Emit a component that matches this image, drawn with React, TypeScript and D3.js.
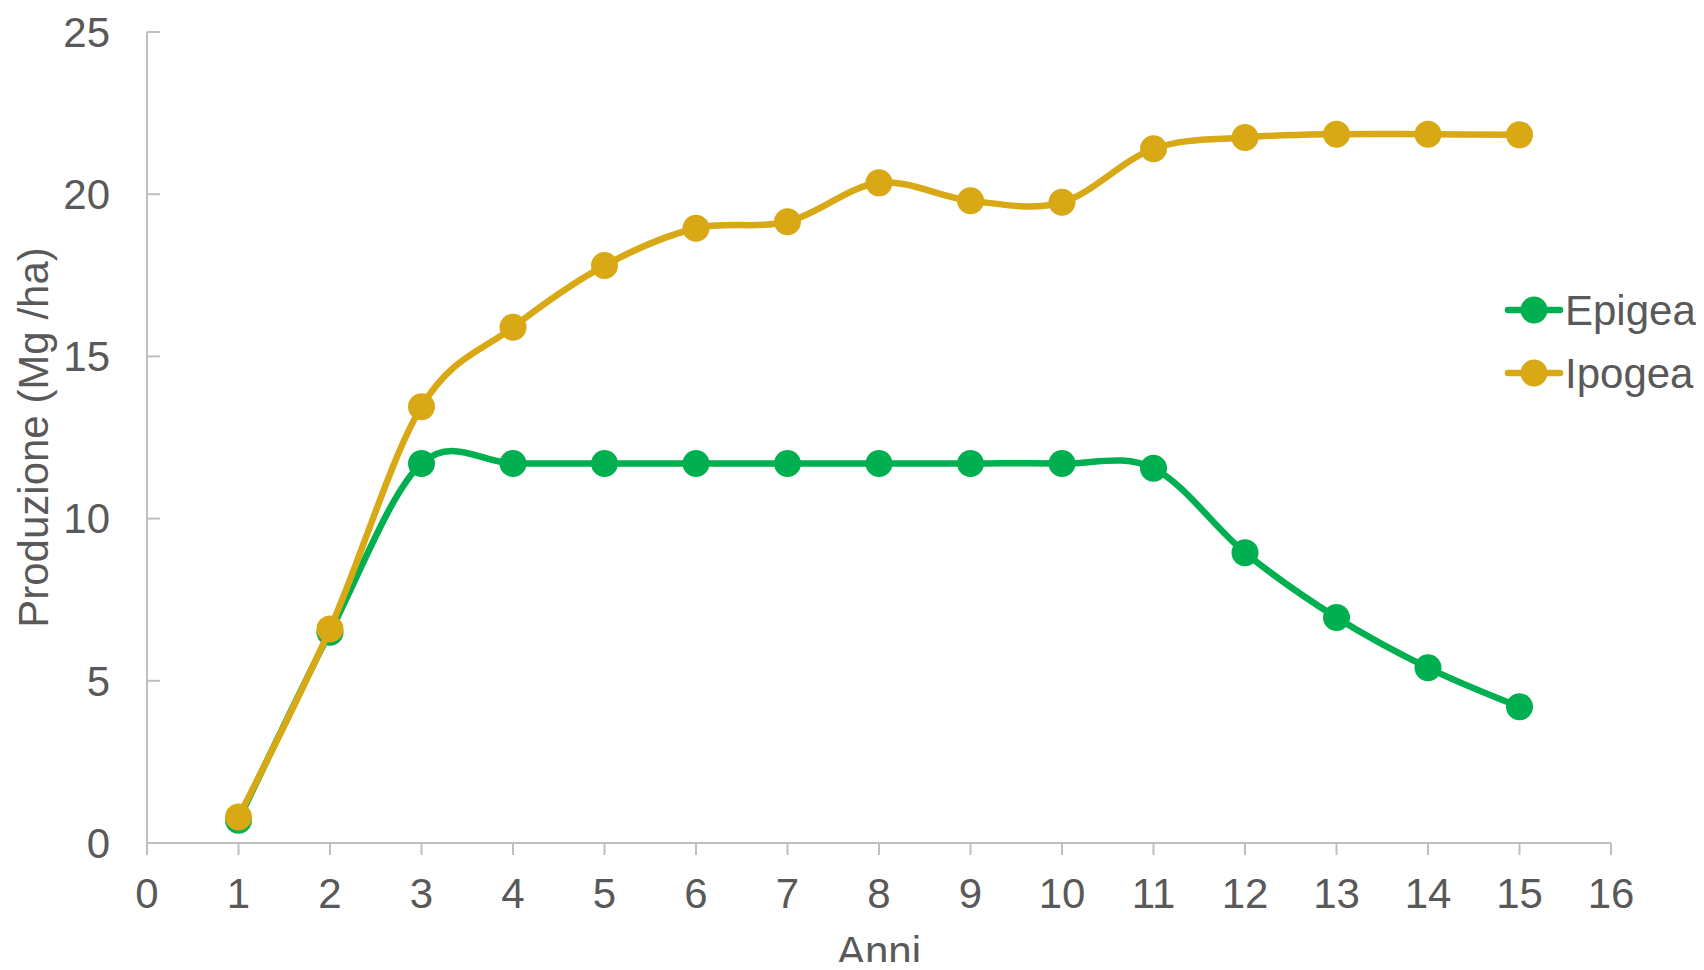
//@ts-nocheck
import * as d3 from "d3";
import { useEffect, useRef } from "react";

const anni = [1, 2, 3, 4, 5, 6, 7, 8, 9, 10, 11, 12, 13, 14, 15];
const epigea = [0.7, 6.5, 11.7, 11.7, 11.7, 11.7, 11.7, 11.7, 11.7, 11.7, 11.55, 8.95, 6.95, 5.4, 4.2];
const ipogea = [0.8, 6.6, 13.45, 15.9, 17.8, 18.95, 19.15, 20.35, 19.8, 19.75, 21.4, 21.75, 21.85, 21.85, 21.83];
const xTicks = d3.range(0, 17);
const yTicks = [0, 5, 10, 15, 20, 25];

const series = [
  { name: "Epigea", values: epigea, color: "#00B050" },
  { name: "Ipogea", values: ipogea, color: "#D8A815" },
];

const W = 1704;
const H = 970;

const Chart = () => {
  const ref = useRef(null);

  useEffect(() => {
    const svg = d3.select(ref.current);
    svg.selectAll("*").remove();

    const font = "'Liberation Sans', Arial, sans-serif";
    const textColor = "#595959";
    const axisColor = "#BFBFBF";

    const x = d3.scaleLinear().domain([0, 16]).range([147, 1611]);
    const y = d3.scaleLinear().domain([0, 25]).range([843, 32]);

    // axes lines
    svg.append("line")
      .attr("x1", x(0)).attr("x2", x(0))
      .attr("y1", y(25)).attr("y2", y(0) + 12)
      .attr("stroke", axisColor).attr("stroke-width", 2);
    svg.append("line")
      .attr("x1", x(0)).attr("x2", x(16))
      .attr("y1", y(0)).attr("y2", y(0))
      .attr("stroke", axisColor).attr("stroke-width", 2);

    // y ticks (inside) + labels
    svg.selectAll("yt").data(yTicks).enter().append("line")
      .attr("x1", x(0)).attr("x2", x(0) + 13)
      .attr("y1", d => y(d)).attr("y2", d => y(d))
      .attr("stroke", axisColor).attr("stroke-width", 2);
    svg.selectAll("yl").data(yTicks).enter().append("text")
      .attr("x", 110).attr("y", d => y(d))
      .attr("dy", "0.35em")
      .attr("text-anchor", "end")
      .style("font-family", font).style("font-size", "42px")
      .attr("fill", textColor)
      .text(d => d);

    // x ticks (outside) + labels
    svg.selectAll("xt").data(xTicks).enter().append("line")
      .attr("x1", d => x(d)).attr("x2", d => x(d))
      .attr("y1", y(0)).attr("y2", y(0) + 12)
      .attr("stroke", axisColor).attr("stroke-width", 2);
    svg.selectAll("xl").data(xTicks).enter().append("text")
      .attr("x", d => x(d)).attr("y", 893)
      .attr("dy", "0.35em")
      .attr("text-anchor", "middle")
      .style("font-family", font).style("font-size", "42px")
      .attr("fill", textColor)
      .text(d => d);

    // axis titles
    svg.append("text")
      .attr("x", x(8)).attr("y", 966)
      .attr("text-anchor", "middle")
      .style("font-family", font).style("font-size", "42px")
      .attr("fill", textColor)
      .text("Anni");
    svg.append("text")
      .attr("transform", `translate(33,${(y(0) + y(25)) / 2}) rotate(-90)`)
      .attr("dy", "0.35em")
      .attr("text-anchor", "middle")
      .style("font-family", font).style("font-size", "42px")
      .attr("fill", textColor)
      .text("Produzione (Mg /ha)");

    // smoothed lines like Excel
    const line = d3.line()
      .x((d, i) => x(anni[i]))
      .y(d => y(d))
      .curve(d3.curveCardinal.tension(0));

    series.forEach(s => {
      svg.append("path")
        .attr("d", line(s.values))
        .attr("fill", "none")
        .attr("stroke", s.color)
        .attr("stroke-width", 6.5)
        .attr("stroke-linejoin", "round")
        .attr("stroke-linecap", "round");
      svg.selectAll("m" + s.name).data(s.values).enter().append("circle")
        .attr("cx", (d, i) => x(anni[i]))
        .attr("cy", d => y(d))
        .attr("r", 13.5)
        .attr("fill", s.color);
    });

    // legend
    series.forEach((s, i) => {
      const ly = 310 + i * 63;
      svg.append("line")
        .attr("x1", 1508).attr("x2", 1560)
        .attr("y1", ly).attr("y2", ly)
        .attr("stroke", s.color).attr("stroke-width", 6.5)
        .attr("stroke-linecap", "round");
      svg.append("circle")
        .attr("cx", 1534).attr("cy", ly).attr("r", 13.5)
        .attr("fill", s.color);
      svg.append("text")
        .attr("x", 1565).attr("y", ly)
        .attr("dy", "0.35em")
        .style("font-family", font).style("font-size", "42px")
        .attr("fill", textColor)
        .text(s.name);
    });
  }, []);

  return <svg ref={ref} width={W} height={H} style={{ display: "block" }}></svg>;
};

export default function App() {
  return (
    <div style={{ margin: -8 }}>
      <Chart />
    </div>
  );
}
